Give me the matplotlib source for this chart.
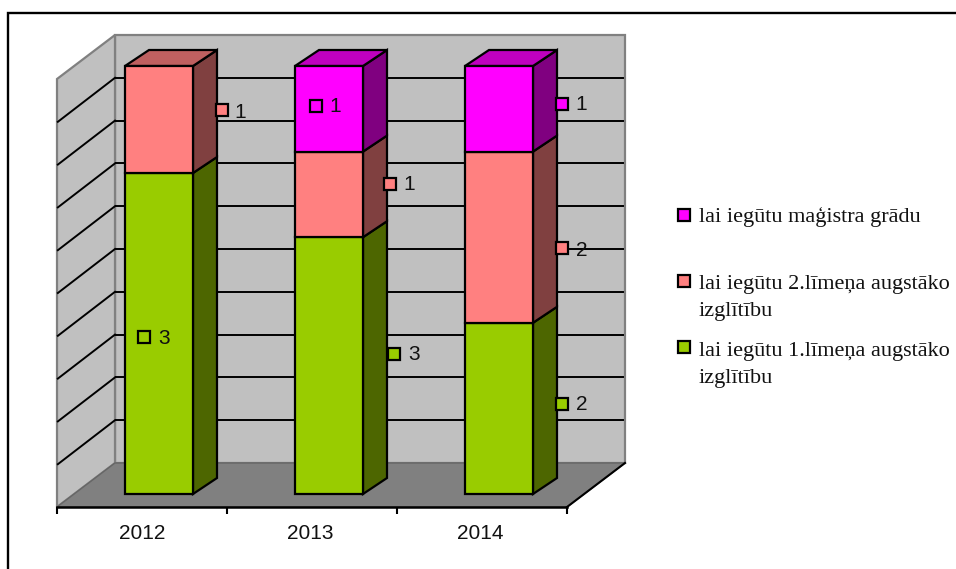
import matplotlib
matplotlib.use("Agg")
import matplotlib.pyplot as plt
from matplotlib.patches import Polygon, Rectangle

W, H = 956, 569
years = ["2012", "2013", "2014"]
series_names = ["lai iegūtu 1.līmeņa augstāko\nizglītību",
                "lai iegūtu 2.līmeņa augstāko\nizglītību",
                "lai iegūtu maģistra grādu"]
first_level = [3, 3, 2]
second_level = [1, 1, 2]
masters = [0, 1, 1]
series = [first_level, second_level, masters]
colors = ["#99CC00", "#FF8080", "#FF00FF"]
side_colors = ["#4D6600", "#804040", "#800080"]
top_colors = ["#7AA300", "#BF6060", "#BF00BF"]
grid_ticks = list(range(10, 100, 10))

# pixel layout
X0, X1, Y0, Y1 = 57, 567, 507, 79
WALL_DX, WALL_DY = 58, 44
BAR_OX, BAR_OY = 17, 13
BAR_DX, BAR_DY = 24, 16
BAR_W = 0.4
TICK_NUDGE = [0, -2, -2]

fig = plt.figure(figsize=(W / 100, H / 100), dpi=100)
ax = fig.add_axes([X0 / W, 1 - Y0 / H, (X1 - X0) / W, (Y0 - Y1) / H])
ax.set_xlim(0, 3)
ax.set_ylim(0, 100)
ax.patch.set_visible(False)

ux = 3 / (X1 - X0)          # data units per pixel
uy = 100 / (Y0 - Y1)
wdx, wdy = WALL_DX * ux, WALL_DY * uy
bdx, bdy = BAR_DX * ux, BAR_DY * uy
box, boy = BAR_OX * ux, BAR_OY * uy


def poly(pts, fc, ec, lw, z):
    ax.add_patch(Polygon(pts, closed=True, fc=fc, ec=ec, lw=lw, zorder=z,
                         clip_on=False, joinstyle="miter"))


# walls and floor
WALL = "#C0C0C0"
EDGE = "#808080"
poly([(wdx, wdy), (3 + wdx, wdy), (3 + wdx, 100 + wdy), (wdx, 100 + wdy)], WALL, EDGE, 1.6, 1)
poly([(0, 0), (wdx, wdy), (wdx, 100 + wdy), (0, 100)], WALL, EDGE, 1.6, 1)
poly([(0, 0), (3, 0), (3 + wdx, wdy), (wdx, wdy)], EDGE, "#666666", 1.0, 1)
ax.plot([3, 3 + wdx], [0, wdy], color="black", lw=1.5, zorder=2, clip_on=False)

# grid lines
for g in grid_ticks:
    ax.plot([wdx + 0.005, 3 + wdx - 0.01], [g + wdy, g + wdy], color="black", lw=1.4, zorder=2, clip_on=False)
    ax.plot([0.005, wdx], [g, g + wdy], color="black", lw=1.4, zorder=2, clip_on=False)

# stacked 100 % bars
centres = [i + 0.5 for i in range(len(years))]
bottoms = [0.0] * len(years)
totals = [sum(s[i] for s in series) for i in range(len(years))]
for k, s in enumerate(series):
    for i, v in enumerate(s):
        if v == 0:
            continue
        h = 100 * v / totals[i]
        b = bottoms[i]
        left = centres[i] - BAR_W / 2 + box
        right = left + BAR_W
        ax.bar(left, h, BAR_W, bottom=b + boy, align="edge", color=colors[k],
               edgecolor="black", linewidth=1.6, zorder=5 + k, clip_on=False)
        poly([(right, b + boy), (right + bdx, b + boy + bdy),
              (right + bdx, b + h + boy + bdy), (right, b + h + boy)],
             side_colors[k], "black", 1.6, 4 + k)
        bottoms[i] = b + h
        if abs(bottoms[i] - 100) < 1e-6:
            poly([(left, 100 + boy), (right, 100 + boy), (right + bdx, 100 + boy + bdy),
                  (left + bdx, 100 + boy + bdy)], top_colors[k], "black", 1.6, 4 + k)

# axis
ax.set_xticks(range(len(years) + 1))
ax.set_xticklabels([""] * (len(years) + 1))
ax.set_xticks([c + n * ux for c, n in zip(centres, TICK_NUDGE)], minor=True)
ax.set_xticklabels(years, minor=True, fontsize=15, family="Liberation Sans", color="#111111")
ax.tick_params(axis="x", which="major", length=5, width=1.5, color="black")
ax.tick_params(axis="x", which="minor", length=0, pad=12)
ax.set_yticks([])
for sp in ["top", "left", "right"]:
    ax.spines[sp].set_visible(False)
ax.spines["bottom"].set_linewidth(1.8)
ax.spines["bottom"].set_zorder(3)


def fx(x):
    return x / W


def fy(y):
    return 1 - y / H


def key(cx, cy, col, size=12):
    fig.add_artist(Rectangle((fx(cx - size / 2), fy(cy + size / 2)), size / W, size / H,
                             transform=fig.transFigure, fc=col, ec="black", lw=1.6, zorder=20))


# outer frame
fig.add_artist(Rectangle((fx(8), fy(600)), (1000 - 8) / W, (600 - 12.5) / H,
                         transform=fig.transFigure, fc="none", ec="black", lw=1.7,
                         clip_on=True, zorder=0))

# data labels: (series, year, key x, key y, text x, text y)
label_places = [
    (0, 0, 144, 337, 164, 339), (1, 0, 222, 110, 240, 112),
    (2, 1, 316, 106, 335, 107), (1, 1, 390, 184, 409, 185), (0, 1, 394, 354, 414, 355),
    (2, 2, 562, 104, 581, 105), (1, 2, 562, 248, 582, 251), (0, 2, 562, 404, 582, 405),
]
for k, i, kx, ky, tx, ty in label_places:
    key(kx, ky, colors[k])
    fig.text(fx(tx), fy(ty), str(series[k][i]), ha="center", va="center", fontsize=15,
             family="Liberation Sans", color="#111111", zorder=21)

# legend
legend_rows = [(2, 215, 216), (1, 281, 284), (0, 347, 351)]
for k, ky, ty in legend_rows:
    key(683.5, ky, colors[k])
    fig.text(fx(699), fy(ty - 9), series_names[k], ha="left", va="top", fontsize=16,
             family="Liberation Serif", color="#111111", linespacing=1.6, zorder=21)

fig.savefig("out.png", dpi=100)
